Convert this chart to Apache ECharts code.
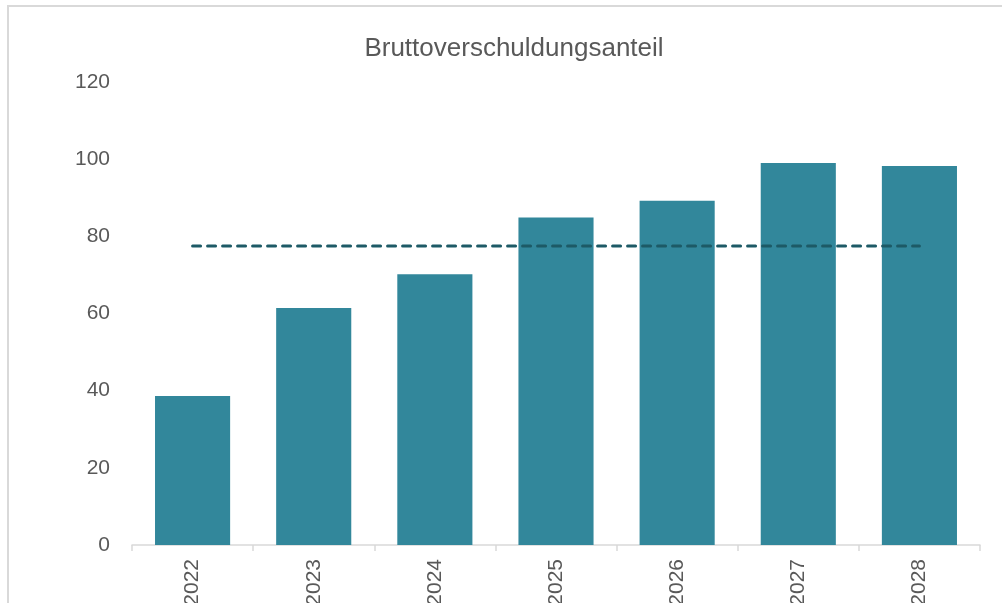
<!DOCTYPE html>
<html>
<head>
<meta charset="utf-8">
<script src="https://cdn.jsdelivr.net/npm/echarts@6/dist/echarts.min.js"></script>
<style>
  html, body { margin: 0; padding: 0; background: #fff; }
  #frame { position: absolute; left: 7px; top: 5px; width: 1010px; height: 620px; border-left: 2px solid #d9d9d9; border-top: 2px solid #d9d9d9; }
  #container_01 { position: absolute; left: 0; top: 0; width: 1002px; height: 603px; }
</style>
</head>
<body>
<div id="frame"></div>
<div id="container_01"></div>
<script>
// chart data
const years = ['2022', '2023', '2024', '2025', '2026', '2027', '2028'];
const anteil = [38.6, 61.4, 70.2, 84.9, 89.2, 99.0, 98.2];
const grenze = [77.5, 77.5, 77.5, 77.5, 77.5, 77.5, 77.5];
const yTicks = [0, 20, 40, 60, 80, 100, 120];

const fontName = '"Liberation Sans Narrow", "Arial Narrow", "Liberation Sans", sans-serif';

var chartDom = document.getElementById('container_01');
var myChart = echarts.init(chartDom);
var option;
option = {
    animation: false,
    title: {
        text: 'Bruttoverschuldungsanteil',
        left: 509,
        textAlign: 'center',
        top: 31,
        textStyle: {
            fontFamily: fontName,
            fontWeight: 'normal',
            fontSize: 26,
            color: '#595959'
        }
    },
    grid: {
        left: 132,
        right: 22,
        top: 82,
        bottom: 58,
        containLabel: false,
        outerBoundsMode: 'none'
    },
    xAxis: {
        type: 'category',
        data: years,
        axisLine: { lineStyle: { color: '#d9d9d9', width: 1.5 } },
        axisTick: { show: true, length: 6, lineStyle: { color: '#d9d9d9', width: 1.5 } },
        axisLabel: {
            rotate: 90,
            margin: 14,
            fontFamily: fontName,
            fontSize: 21,
            color: '#595959'
        }
    },
    yAxis: {
        type: 'value',
        min: yTicks[0],
        max: yTicks[yTicks.length - 1],
        interval: 20,
        axisLine: { show: false },
        axisTick: { show: false },
        splitLine: { show: false },
        axisLabel: {
            margin: 22,
            fontFamily: fontName,
            fontSize: 21,
            color: '#595959'
        }
    },
    series: [
        {
            name: 'Anteil',
            type: 'bar',
            data: anteil,
            barWidth: '62%',
            itemStyle: { color: '#32879b' }
        },
        {
            name: 'Grenze',
            type: 'line',
            data: grenze,
            symbol: 'none',
            lineStyle: {
                color: '#1d5a66',
                width: 3,
                type: [8, 7],
                cap: 'round'
            },
            z: 5
        }
    ]
};
option && myChart.setOption(option);
</script>
</body>
</html>
